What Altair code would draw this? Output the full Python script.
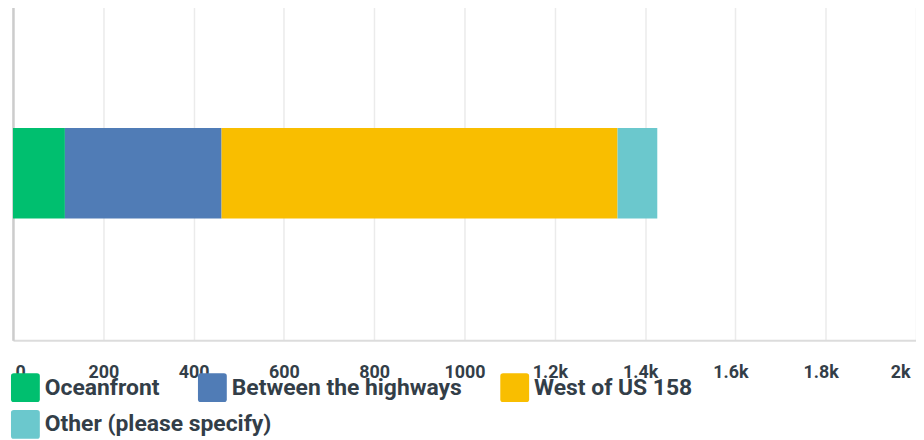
import altair as alt
import pandas as pd

categories = ["Oceanfront", "Between the highways", "West of US 158", "Other (please specify)"]
values = [115, 347, 877, 88]
colors = ["#00bf6f", "#507cb6", "#f9be00", "#6bc8cd"]
tick_values = [0, 200, 400, 600, 800, 1000, 1200, 1400, 1600, 1800, 2000]

df = pd.DataFrame({
    "answer": categories,
    "count": values,
    "order": list(range(len(categories))),
    "question": ["Q"] * len(categories),
})

rounded_square = "M-0.8,-1H0.8Q1,-1 1,-0.8V0.8Q1,1 0.8,1H-0.8Q-1,1 -1,0.8V-0.8Q-1,-1 -0.8,-1Z"
FONT = "Roboto"
TXT = "#333e48"

label_offset = {
    "condition": [
        {"test": "datum.value == 0", "value": 2},
        {"test": "datum.value >= 2000", "value": -6},
        {"test": "datum.value >= 1200", "value": -5},
    ],
    "value": 0,
}

legend_common = dict(
    title=None,
    orient="none",
    legendX=-2,
    direction="horizontal",
    columnPadding=38,
    symbolType=rounded_square,
    symbolSize=841,
    symbolStrokeWidth=0,
    symbolOpacity=1,
    labelFont=FONT,
    labelFontSize=23,
    labelFontWeight="bold",
    labelColor=TXT,
    labelOffset=5,
    labelLimit=400,
    padding=0,
)

base = alt.Chart(df).transform_window(
    end="sum(count)", sort=[alt.SortField("order", order="ascending")]
).transform_calculate(
    start="datum.end - datum.count"
)

x_enc = alt.X(
    "start:Q",
    scale=alt.Scale(domain=[0, 2000], nice=False),
    axis=alt.Axis(
        values=tick_values,
        labelExpr="datum.value > 1000 ? format(datum.value / 1000, '~g') + 'k' : format(datum.value, 'd')",
        title=None,
        ticks=False,
        labelPadding=23,
        labelFont=FONT,
        labelFontSize=18,
        labelFontWeight="bold",
        labelColor=TXT,
        labelOffset=label_offset,
        gridColor="#ebebeb",
        gridWidth=1.5,
        domainColor="#dcdcdc",
        domainWidth=2,
    ),
)
y_enc = alt.Y(
    "question:N",
    axis=alt.Axis(labels=False, ticks=False, title=None, domainColor="#cccccc", domainWidth=2.5, grid=False),
)

main = base.transform_filter(
    alt.datum.order < 3
).mark_bar(size=91).encode(
    x=x_enc,
    x2="end:Q",
    y=y_enc,
    color=alt.Color(
        "answer:N",
        scale=alt.Scale(domain=categories[:3], range=colors[:3]),
        sort=categories[:3],
        legend=alt.Legend(legendY=369, **legend_common),
    ),
)

other = base.transform_filter(
    alt.datum.order == 3
).mark_bar(size=91).encode(
    x=x_enc,
    x2="end:Q",
    y=y_enc,
    fill=alt.Fill(
        "answer:N",
        scale=alt.Scale(domain=categories[3:], range=colors[3:]),
        legend=alt.Legend(legendY=406, **legend_common),
    ),
)

chart = alt.layer(main, other).properties(
    width=908,
    height=336,
    padding={"top": -3, "left": 3, "right": 0, "bottom": 0},
).configure_view(stroke=None)

chart.save("out.html", embed_options={"renderer": "svg", "actions": False})
